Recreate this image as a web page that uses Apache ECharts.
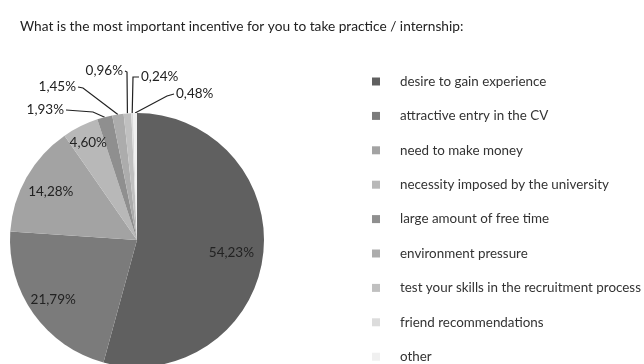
<!DOCTYPE html>
<html>
<head>
<meta charset="utf-8">
<script src="https://cdn.jsdelivr.net/npm/echarts@6/dist/echarts.min.js"></script>
<style>
  html, body { margin: 0; padding: 0; background: #fff; }
  #chart { width: 644px; height: 364px; }
</style>
</head>
<body>
<div id="chart"></div>
<script>
// Survey answers and their shares (percent)
const categories = [
  'desire to gain experience',
  'attractive entry in the CV',
  'need to make money',
  'necessity imposed by the university',
  'large amount of free time',
  'environment pressure',
  'test your skills in the recruitment process',
  'friend recommendations',
  'other'
];
const shares = [54.23, 21.79, 14.28, 4.60, 1.93, 1.45, 0.96, 0.24, 0.48];
const titleText = 'What is the most important incentive for you to take practice / internship:';

// Grey palette for slices and legend keys
const sliceColors = ['#606060', '#7b7b7b', '#a3a3a3', '#b8b8b8', '#8f8f8f',
                     '#acacac', '#c0c0c0', '#dcdcdc', '#f0f0f0'];

const CX = 137, CY = 240, R = 127;

// Inside labels: radial fraction of the radius. Outside labels: label anchor
// and leader-line elbow offsets from the pie centre, plus text alignment.
const insideFrac = [0.75, 0.81, 0.78, 0.86];
const outsideLayout = {
  4: { lx: -73, ly: -130, ex: -44, ey: -128, align: 'right' },
  5: { lx: -61, ly: -153, ex: -54, ey: -152, align: 'right' },
  6: { lx: -14, ly: -169, ex: -10, ey: -168, align: 'right' },
  7: { lx: 4,   ly: -163, ex: -4,  ey: -163, align: 'left' },
  8: { lx: 39,  ly: -146, ex: 30,  ey: -144, align: 'left' }
};

const total = shares.reduce((a, b) => a + b, 0);
const midAngles = [];
let acc = 0;
shares.forEach(v => {
  midAngles.push(((acc + v / 2) / total) * Math.PI * 2);
  acc += v;
});

const fmt = v => v.toFixed(2).replace('.', ',') + '%';

const chart = echarts.init(document.getElementById('chart'));
chart.setOption({
  animation: false,
  backgroundColor: '#ffffff',
  title: {
    text: titleText,
    left: 15,
    top: 15,
    textStyle: { fontFamily: 'Lato', fontSize: 13.7, fontWeight: 'normal', color: '#222' }
  },
  legend: {
    orient: 'vertical',
    left: 372,
    top: 74.5,
    height: 320,
    padding: 0,
    itemWidth: 8,
    itemHeight: 8,
    itemGap: 20.4,
    icon: 'rect',
    selectedMode: false,
    data: categories,
    textStyle: { fontFamily: 'Lato', fontSize: 13.4, color: '#333', lineHeight: 14, padding: [0, 0, 0, 15] }
  },
  series: [{
    type: 'pie',
    center: [CX, CY],
    radius: [0, R],
    startAngle: 90,
    clockwise: true,
    avoidLabelOverlap: false,
    itemStyle: { borderColor: '#ffffff', borderWidth: 0 },
    label: {
      show: true,
      fontFamily: 'Lato',
      fontSize: 13.5,
      color: '#222',
      formatter: p => fmt(p.value)
    },
    labelLine: { show: true, lineStyle: { color: '#222', width: 1.2 } },
    labelLayout: function (params) {
      const i = params.dataIndex;
      const a = midAngles[i];
      if (i < insideFrac.length) {
        const d = insideFrac[i] * R;
        return {
          x: CX + d * Math.sin(a),
          y: CY - d * Math.cos(a),
          align: 'center',
          verticalAlign: 'middle'
        };
      }
      const o = outsideLayout[i];
      const edge = [CX + R * Math.sin(a), CY - R * Math.cos(a)];
      const lx = CX + o.lx, ly = CY + o.ly;
      const attach = [o.align === 'right' ? lx + 2 : lx - 2, ly];
      return {
        x: lx,
        y: ly,
        align: o.align,
        verticalAlign: 'middle',
        labelLinePoints: [edge, [CX + o.ex, CY + o.ey], attach]
      };
    },
    data: categories.map((name, i) => ({
      name: name,
      value: shares[i],
      itemStyle: { color: sliceColors[i] },
      label: { position: i < insideFrac.length ? 'inside' : 'outside' },
      labelLine: { show: i >= insideFrac.length, length: 10, length2: 10 }
    }))
  }]
});
</script>
</body>
</html>
